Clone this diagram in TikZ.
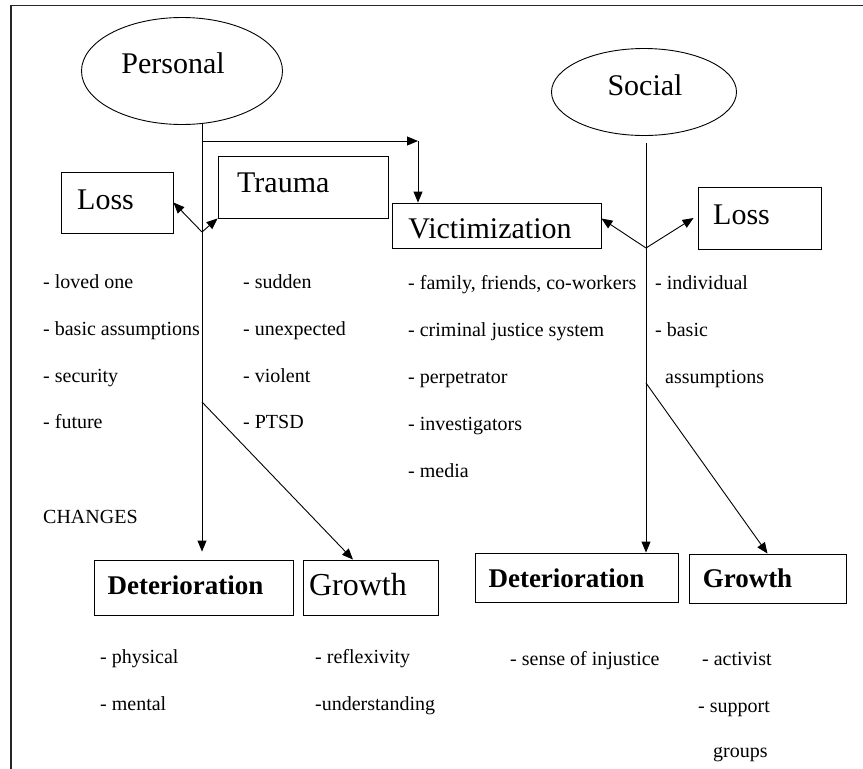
\documentclass[tikz,border=0pt]{standalone}
\usepackage{fontspec}
\setmainfont{Liberation Serif}
\usetikzlibrary{shapes.geometric,arrows.meta}
\begin{document}
\begin{tikzpicture}[x=1pt,y=-1pt,
  box/.style={draw, line width=0.9pt, inner sep=0pt},
  oval/.style={draw, ellipse, line width=0.9pt, inner sep=0pt},
  lst/.style={anchor=west, inner sep=0pt, font=\fontsize{20}{24}\selectfont, text height=14pt, text depth=4pt},
  big/.style={inner sep=0pt, font=\fontsize{30}{36}\selectfont},
  bigbold/.style={inner sep=0pt, font=\fontsize{27}{32}\selectfont\bfseries},
  conn/.style={line width=0.9pt},
  arr/.style={conn, -{Triangle[length=11pt,width=9pt]}}
]
\useasboundingbox (0,0) rectangle (863,769);
\draw[line width=1.6pt, black!85] (11,769) -- (11,5.5) -- (863,5.5);

% ovals
\node[oval, minimum width=201pt, minimum height=107pt] (personal) at (182,71) {};
\node[big] (personalT) at (173,63) {Personal};
\node[oval, minimum width=185pt, minimum height=87pt] (social) at (644,92) {};
\node[big] (socialT) at (645,85) {Social};

% top boxes
\node[box, minimum width=112pt, minimum height=61pt] (lossP) at (117,202.5) {};
\node[big, anchor=west] (lossPT) at (77,200) {Loss};
\node[box, minimum width=170pt, minimum height=62pt] (trauma) at (303,187) {};
\node[big, anchor=west] (traumaT) at (237,183) {Trauma};
\node[box, minimum width=209pt, minimum height=45pt] (vict) at (496.5,225.5) {};
\node[big] (victT) at (490,229) {Victimization};
\node[box, minimum width=123pt, minimum height=62pt] (lossS) at (759.5,218) {};
\node[big, anchor=west] (lossST) at (713,215) {Loss};

% bottom boxes
\node[box, minimum width=199pt, minimum height=55pt] (detL) at (193.5,587.5) {};
\node[bigbold] (detLT) at (185.5,585) {Deterioration};
\node[box, minimum width=135pt, minimum height=55pt] (growL) at (370.5,587.5) {};
\node[inner sep=0pt, font=\fontsize{32}{38}\selectfont] (growLT) at (358,585) {Growth};
\node[box, minimum width=203pt, minimum height=49pt] (detR) at (576.5,577.5) {};
\node[bigbold] (detRT) at (566.5,578) {Deterioration};
\node[box, minimum width=157pt, minimum height=49pt] (growR) at (767.5,578.5) {};
\node[bigbold] (growRT) at (747.5,578) {Growth};

% junction coordinates
\coordinate (pTop) at (202,124);
\coordinate (pH) at (202,141);
\coordinate (vC) at (418,141);
\coordinate (pSplit) at (202,232);
\coordinate (pDiag) at (202,402);
\coordinate (sTop) at (646,143);
\coordinate (sSplit) at (646,248);
\coordinate (sDiag) at (646,383);

% connectors
\draw[arr, shorten >=8pt] (pTop) -- (pTop |- detL.north);
\draw[arr] (pH) -- (vC);
\draw[arr] (vC) -- (vC |- vict.north);
\draw[arr] (pSplit) -- (lossP.east);
\draw[arr] (pSplit) -- (trauma.south west);
\draw[arr] (pDiag) -- ([xshift=-17.5pt]growL.north);
\draw[arr] (sTop) -- (sTop |- detR.north);
\draw[arr] (sSplit) -- ([yshift=7pt]vict.east);
\draw[arr] (sSplit) -- ([xshift=-4pt]lossS.west);
\draw[arr] (sDiag) -- (growR.north);

% lists
\node[lst] (a1) at (43,283) {- loved one};
\node[lst] (a2) at (43,330) {- basic assumptions};
\node[lst] (a3) at (43,377) {- security};
\node[lst] (a4) at (43,423) {- future};
\node[lst] (b1) at (243,283) {- sudden};
\node[lst] (b2) at (243,330) {- unexpected};
\node[lst] (b3) at (243,377) {- violent};
\node[lst] (b4) at (243,423) {- PTSD};
\node[lst] (c1) at (408,284) {- family, friends, co-workers};
\node[lst] (c2) at (408,331) {- criminal justice system};
\node[lst] (c3) at (408,378) {- perpetrator};
\node[lst] (c4) at (408,425) {- investigators};
\node[lst] (c5) at (408,472) {- media};
\node[lst] (d1) at (655,284) {- individual};
\node[lst] (d2) at (655,331) {- basic};
\node[lst] (d3) at (665,378) {assumptions};
\node[lst] (chg) at (43,518) {CHANGES};
\node[lst] (e1) at (100,658) {- physical};
\node[lst] (e2) at (100,705) {- mental};
\node[lst] (f1) at (315,658) {- reflexivity};
\node[lst] (f2) at (315,705) {-understanding};
\node[lst] (g1) at (510,660) {- sense of injustice};
\node[lst] (h1) at (702,660) {- activist};
\node[lst] (h2) at (698,707) {- support};
\node[lst] (h3) at (713,752) {groups};
\end{tikzpicture}
\end{document}
